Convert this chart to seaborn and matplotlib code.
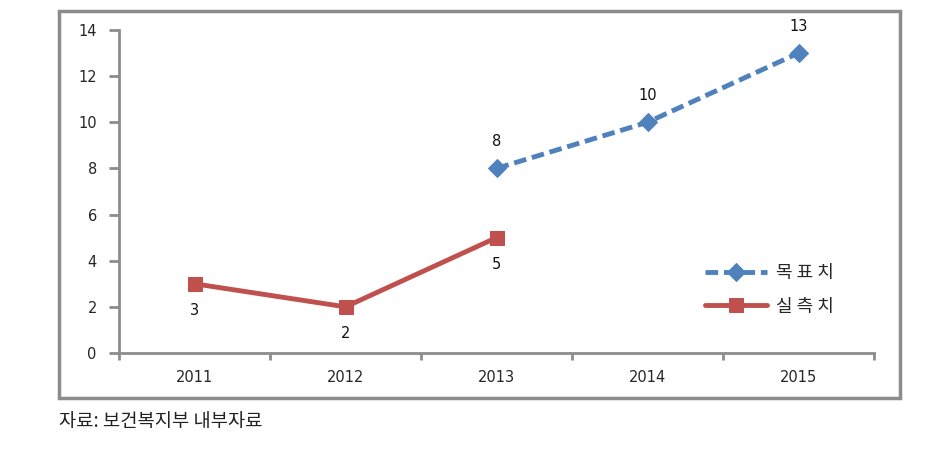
import numpy as np
import pandas as pd
import matplotlib
matplotlib.use("Agg")
import matplotlib.pyplot as plt
from matplotlib.patches import Rectangle
import seaborn as sns

years = ["2011", "2012", "2013", "2014", "2015"]
target = [np.nan, np.nan, 8, 10, 13]
actual = [3, 2, 5, np.nan, np.nan]
target_label = "목 표 치"
actual_label = "실 측 치"
source_text = "자료: 보건복지부 내부자료"
yticks = [0, 2, 4, 6, 8, 10, 12, 14]

sns.set_style("white")
plt.rcParams['font.family'] = ['DejaVu Sans', 'Noto Sans CJK KR']
kr = ['Noto Sans CJK KR', 'DejaVu Sans']

blue = "#4F81BD"
red = "#C0504D"
gray = "#8C8C8C"

idx = np.arange(len(years))
df_t = pd.DataFrame({"x": idx, "y": target}).dropna()
df_a = pd.DataFrame({"x": idx, "y": actual}).dropna()

fig = plt.figure(figsize=(9.3, 4.55), dpi=100)
ax = fig.add_axes([119/930, 1-353/455, (874-119)/930, (353-30)/455])

sns.lineplot(data=df_t, x="x", y="y", ax=ax, color=blue, lw=3.5,
             marker="D", markersize=9, markeredgecolor=blue,
             linestyle=(0, (2.6, 1.2)), label=target_label)
sns.lineplot(data=df_a, x="x", y="y", ax=ax, color=red, lw=3.5,
             marker="s", markersize=10, markeredgecolor=red,
             label=actual_label)

for x, y in zip(df_t["x"], df_t["y"]):
    ax.annotate(f"{int(y)}", (x, y), xytext=(0, 14), textcoords="offset points",
                ha="center", va="bottom", fontsize=10.5, color="#111111")
for x, y in zip(df_a["x"], df_a["y"]):
    ax.annotate(f"{int(y)}", (x, y), xytext=(0, -14), textcoords="offset points",
                ha="center", va="top", fontsize=10.5, color="#111111")

ax.set_xlim(-0.5, len(years) - 0.5)
ax.set_ylim(0, 14)
ax.set_yticks(yticks)
ax.set_yticklabels([str(v) for v in yticks], fontsize=10.5)
ax.set_xticks(np.arange(-0.5, len(years), 1.0))
ax.set_xticklabels([])
ax.set_xticks(idx, minor=True)
ax.set_xticklabels(years, minor=True, fontsize=10.5)
ax.tick_params(axis="x", which="minor", bottom=True, length=0, pad=12)
ax.tick_params(axis="x", which="major", bottom=True, length=5, width=2,
               color=gray, direction="out")
ax.tick_params(axis="y", left=True, length=7, width=2, color=gray,
               direction="out", pad=9)
for s in ["top", "right"]:
    ax.spines[s].set_visible(False)
for s in ["left", "bottom"]:
    ax.spines[s].set_color(gray)
    ax.spines[s].set_linewidth(2)
ax.set_xlabel("")
ax.set_ylabel("")

leg = ax.legend(loc="upper left", bbox_to_anchor=(0.755, 0.325), frameon=False,
                prop={'family': kr, 'size': 13}, handlelength=3.4,
                labelspacing=0.85, handletextpad=0.5)

fig.patches.append(Rectangle((59/930, 1-398/455), (900-59)/930, (398-11)/455,
                             transform=fig.transFigure, fill=False,
                             edgecolor=gray, lw=2.5))
fig.text(59/930, 1-422/455, source_text, fontsize=13.5, va="center", ha="left",
         color="#222222", family=kr)

fig.savefig("out.png", dpi=100)
